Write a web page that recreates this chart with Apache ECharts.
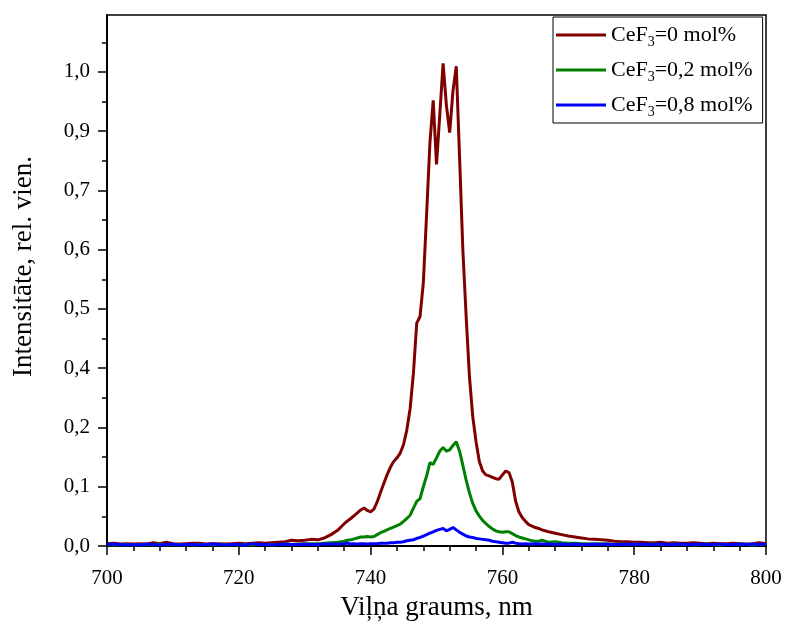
<!DOCTYPE html>
<html>
<head>
<meta charset="utf-8">
<script src="https://cdn.jsdelivr.net/npm/echarts@6/dist/echarts.min.js"></script>
<style>
html,body{margin:0;padding:0;background:#fff;}
#chart{width:785px;height:630px;}
</style>
</head>
<body>
<div id="chart"></div>
<script>
// Wavelengths (nm)
var wavelengths = [
700,701,702,703,704,705,706,707,708,709,710,711,712,713,714,715,716,717,718,719,
720,721,722,723,724,725,726,727,728,729,730,731,732,733,734,
735,735.5,736,736.5,737,737.5,738,738.5,739,739.5,
740,740.5,741,741.5,742,742.5,743,743.5,744,744.5,
745,745.5,746,746.5,747,747.5,748,748.5,749,749.5,
750,750.5,751,751.5,752,752.5,753,753.5,754,754.5,
755,755.5,756,756.5,757,757.5,758,758.5,759,759.5,
760,760.5,761,761.5,762,762.5,763,763.5,764,764.5,
765,765.5,766,
767,768,769,770,771,772,773,774,775,776,777,778,779,780,781,782,783,784,785,786,
787,788,789,790,791,792,793,794,795,796,797,798,799,800
];
// CeF3 = 0 mol%
var ceF3_0 = [
0.005,0.006,0.004,0.005,0.004,0.005,0.004,0.007,0.005,0.008,0.005,0.004,0.005,0.006,0.006,0.004,0.005,0.005,0.004,0.005,
0.006,0.005,0.006,0.007,0.006,0.007,0.008,0.009,0.012,0.011,0.012,0.014,0.013,0.017,0.024,
0.033,0.040,0.047,0.053,0.058,0.064,0.070,0.076,0.080,0.075,
0.072,0.078,0.093,0.113,0.132,0.150,0.166,0.178,0.186,0.196,
0.214,0.245,0.290,0.365,0.470,0.484,0.555,0.700,0.850,0.940,
0.805,0.910,1.018,0.930,0.872,0.960,1.012,0.820,0.624,0.484,
0.357,0.273,0.220,0.178,0.158,0.150,0.148,0.145,0.142,0.141,
0.150,0.158,0.155,0.135,0.095,0.072,0.060,0.052,0.045,0.042,
0.039,0.037,0.034,
0.030,0.027,0.024,0.021,0.019,0.017,0.015,0.014,0.013,0.012,0.010,0.009,0.009,0.008,0.008,0.007,0.007,0.008,0.006,0.007,
0.006,0.006,0.007,0.006,0.005,0.006,0.005,0.005,0.006,0.005,0.004,0.005,0.007,0.005
];
// CeF3 = 0,2 mol%
var ceF3_02 = [
0.003,0.002,0.003,0.002,0.003,0.002,0.003,0.002,0.004,0.002,0.003,0.002,0.003,0.002,0.003,0.003,0.002,0.003,0.002,0.003,
0.002,0.003,0.002,0.003,0.003,0.002,0.003,0.004,0.003,0.004,0.004,0.005,0.005,0.006,0.007,
0.008,0.009,0.010,0.012,0.013,0.015,0.017,0.019,0.019,0.020,
0.019,0.020,0.024,0.028,0.031,0.034,0.037,0.040,0.043,0.046,
0.052,0.058,0.065,0.080,0.094,0.100,0.125,0.148,0.176,0.172,
0.186,0.200,0.208,0.200,0.203,0.212,0.220,0.200,0.170,0.139,
0.112,0.090,0.074,0.063,0.054,0.047,0.041,0.036,0.032,0.030,
0.029,0.030,0.030,0.026,0.022,0.019,0.017,0.015,0.013,0.011,
0.010,0.010,0.012,
0.008,0.009,0.007,0.006,0.006,0.005,0.005,0.004,0.005,0.004,0.003,0.004,0.003,0.004,0.003,0.003,0.004,0.003,0.003,0.004,
0.003,0.003,0.002,0.003,0.004,0.003,0.002,0.003,0.003,0.004,0.003,0.002,0.003,0.003
];
// CeF3 = 0,8 mol%
var ceF3_08 = [
0.003,0.004,0.003,0.002,0.003,0.002,0.004,0.003,0.002,0.003,0.004,0.002,0.003,0.003,0.002,0.003,0.004,0.003,0.002,0.003,
0.003,0.002,0.005,0.003,0.003,0.002,0.003,0.004,0.003,0.003,0.004,0.003,0.003,0.004,0.004,
0.004,0.004,0.005,0.006,0.004,0.005,0.004,0.005,0.005,0.004,
0.005,0.005,0.005,0.006,0.006,0.006,0.007,0.007,0.008,0.008,
0.009,0.011,0.012,0.013,0.016,0.018,0.021,0.024,0.027,0.030,
0.033,0.035,0.037,0.032,0.035,0.039,0.034,0.029,0.025,0.021,
0.019,0.018,0.016,0.015,0.014,0.013,0.012,0.010,0.009,0.008,
0.007,0.006,0.006,0.008,0.006,0.005,0.004,0.005,0.004,0.004,
0.005,0.004,0.004,
0.004,0.003,0.004,0.003,0.004,0.003,0.003,0.004,0.003,0.004,0.003,0.003,0.004,0.003,0.004,0.003,0.003,0.004,0.003,0.003,
0.004,0.003,0.003,0.004,0.003,0.003,0.004,0.003,0.003,0.004,0.003,0.004,0.003,0.004
];
var seriesNames = ['CeF3=0 mol%', 'CeF3=0,2 mol%', 'CeF3=0,8 mol%'];
var seriesColors = ['#800000', '#008000', '#0000ff'];
var yTickLabels = ['0,0','0,1','0,2','0,4','0,5','0,6','0,7','0,9','1,0'];
var yTickValues = [0, 0.125, 0.25, 0.375, 0.5, 0.625, 0.75, 0.875, 1.0];
var xTitle = 'Viļņa graums, nm';
var yTitle = 'Intensitāte, rel. vien.';

var FONT = '"Liberation Serif", "Times New Roman", serif';
function pairs(vals){ return wavelengths.map(function(w,i){ return [w, vals[i]]; }); }
var allVals = [ceF3_0, ceF3_02, ceF3_08];

var chart = echarts.init(document.getElementById('chart'), null, {renderer:'canvas'});
chart.setOption({
  animation: false,
  backgroundColor: '#fff',
  grid: { left: 107, right: 19, top: 15, bottom: 84, show: true, borderColor: '#000', borderWidth: 1.5, backgroundColor: 'transparent' },
  legend: {
    orient: 'vertical', left: 553, top: 17,
    backgroundColor: '#fff', borderColor: '#000', borderWidth: 1,
    padding: [4, 10, 4, 3], itemGap: 7, itemWidth: 50, itemHeight: 3,
    icon: 'rect',
    data: seriesNames,
    formatter: function(name){ return name.replace('CeF3', '{n|CeF}{s|3}{n|') + '}'; },
    textStyle: {
      fontFamily: FONT, fontSize: 22, color: '#000',
      rich: {
        n: { fontFamily: FONT, fontSize: 22, color: '#000', lineHeight: 25 },
        s: { fontFamily: FONT, fontSize: 14, color: '#000', lineHeight: 14, padding: [14, 0, 0, 0] }
      }
    }
  },
  xAxis: {
    type: 'value', min: 700, max: 800, interval: 20,
    name: xTitle, nameLocation: 'middle', nameGap: 48,
    nameTextStyle: { fontFamily: FONT, fontSize: 27, color: '#000' },
    axisLine: { show: true, onZero: false, lineStyle: { color: '#000', width: 2 } },
    axisTick: { show: true, length: 9, lineStyle: { color: '#000', width: 1.5 } },
    minorTick: { show: true, splitNumber: 5, length: 5, lineStyle: { color: '#000', width: 1.5 } },
    splitLine: { show: false },
    axisLabel: { fontFamily: FONT, fontSize: 21, color: '#000', margin: 22 }
  },
  yAxis: {
    type: 'value', min: 0, max: 1.12, interval: 0.125,
    name: yTitle, nameLocation: 'middle', nameGap: 70,
    nameTextStyle: { fontFamily: FONT, fontSize: 27, color: '#000', padding: [0, 0, 0, 28] },
    axisLine: { show: true, onZero: false, lineStyle: { color: '#000', width: 2 } },
    axisTick: { show: true, length: 9, customValues: yTickValues, lineStyle: { color: '#000', width: 1.5 } },
    minorTick: { show: true, splitNumber: 2, length: 5, lineStyle: { color: '#000', width: 1.5 } },
    splitLine: { show: false },
    axisLabel: {
      fontFamily: FONT, fontSize: 21, color: '#000', margin: 17,
      customValues: yTickValues,
      formatter: function(v){
        var k = Math.round(v / 0.125);
        if (Math.abs(v - k * 0.125) > 1e-6 || k >= yTickLabels.length) return '';
        return yTickLabels[k];
      }
    }
  },
  series: seriesNames.map(function(n, i){
    return {
      name: n, type: 'line', showSymbol: false, symbol: 'none',
      data: pairs(allVals[i]),
      lineStyle: { color: seriesColors[i], width: 3 },
      itemStyle: { color: seriesColors[i] },
      z: 2 + i
    };
  })
});
</script>
</body>
</html>
